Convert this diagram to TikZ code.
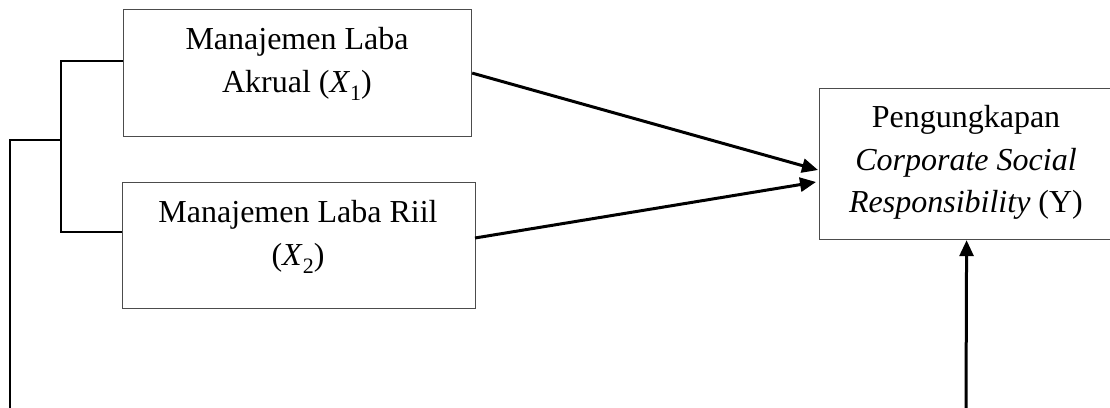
\documentclass[tikz,border=0pt]{standalone}
\usepackage{fontspec}
\setmainfont{Liberation Serif}
\usetikzlibrary{arrows.meta}
\newcommand{\vsub}[1]{\raisebox{-0.25em}{\fontsize{22}{22}\selectfont #1}}
\begin{document}
\begin{tikzpicture}[x=1pt,y=-1pt,
  box/.style={draw=black!70,line width=1.2pt,inner sep=0pt,anchor=north west},
  txt/.style={anchor=base,inner sep=0pt,font=\fontsize{32}{42}\selectfont},
  link/.style={line width=2.2pt,black},
  arr/.style={line width=3pt,black,-{Triangle[length=16pt,width=14pt]}}]
\useasboundingbox (0,0) rectangle (1110,407);
% boxes
\node[box,minimum width=348pt,minimum height=127pt] (b1) at (123,9) {};
\node[box,minimum width=353pt,minimum height=126pt] (b2) at (122,182) {};
\node[box,minimum width=294pt,minimum height=151pt] (y) at (819,88) {};
% texts
\node[txt] (t1a) at (297,49) {Manajemen Laba};
\node[txt] (t1b) at (297,92) {Akrual (\textit{X}\vsub{1})};
\node[txt] (t2a) at (298,222) {Manajemen Laba Riil};
\node[txt] (t2b) at (298,265) {(\textit{X}\vsub{2})};
\node[txt] (tya) at (966,127) {Pengungkapan};
\node[txt] (tyb) at (966,170) {\textit{Corporate Social}};
\node[txt] (tyc) at (966,212) {\textit{Responsibility} (Y)};
% bracket
\coordinate (c1) at (61,61);
\coordinate (c2) at (61,232);
\coordinate (cm) at (61,140);
\coordinate (cl) at (10,140);
\coordinate (cb) at (10,408);
\draw[link] (b1.west |- c1) -- (c1) -- (c2) -- (b2.west |- c2);
\draw[link] (cm) -- (cl) -- (cb);
% arrows
\coordinate (e2) at (475,238);
\coordinate (p1) at (818,170);
\coordinate (p2) at (816,182);
\coordinate (pb) at (966,408);
\draw[arr] (b1.east) -- (p1);
\draw[arr] (e2) -- (p2);
\draw[arr] (pb) -- (y.south);
\end{tikzpicture}
\end{document}
